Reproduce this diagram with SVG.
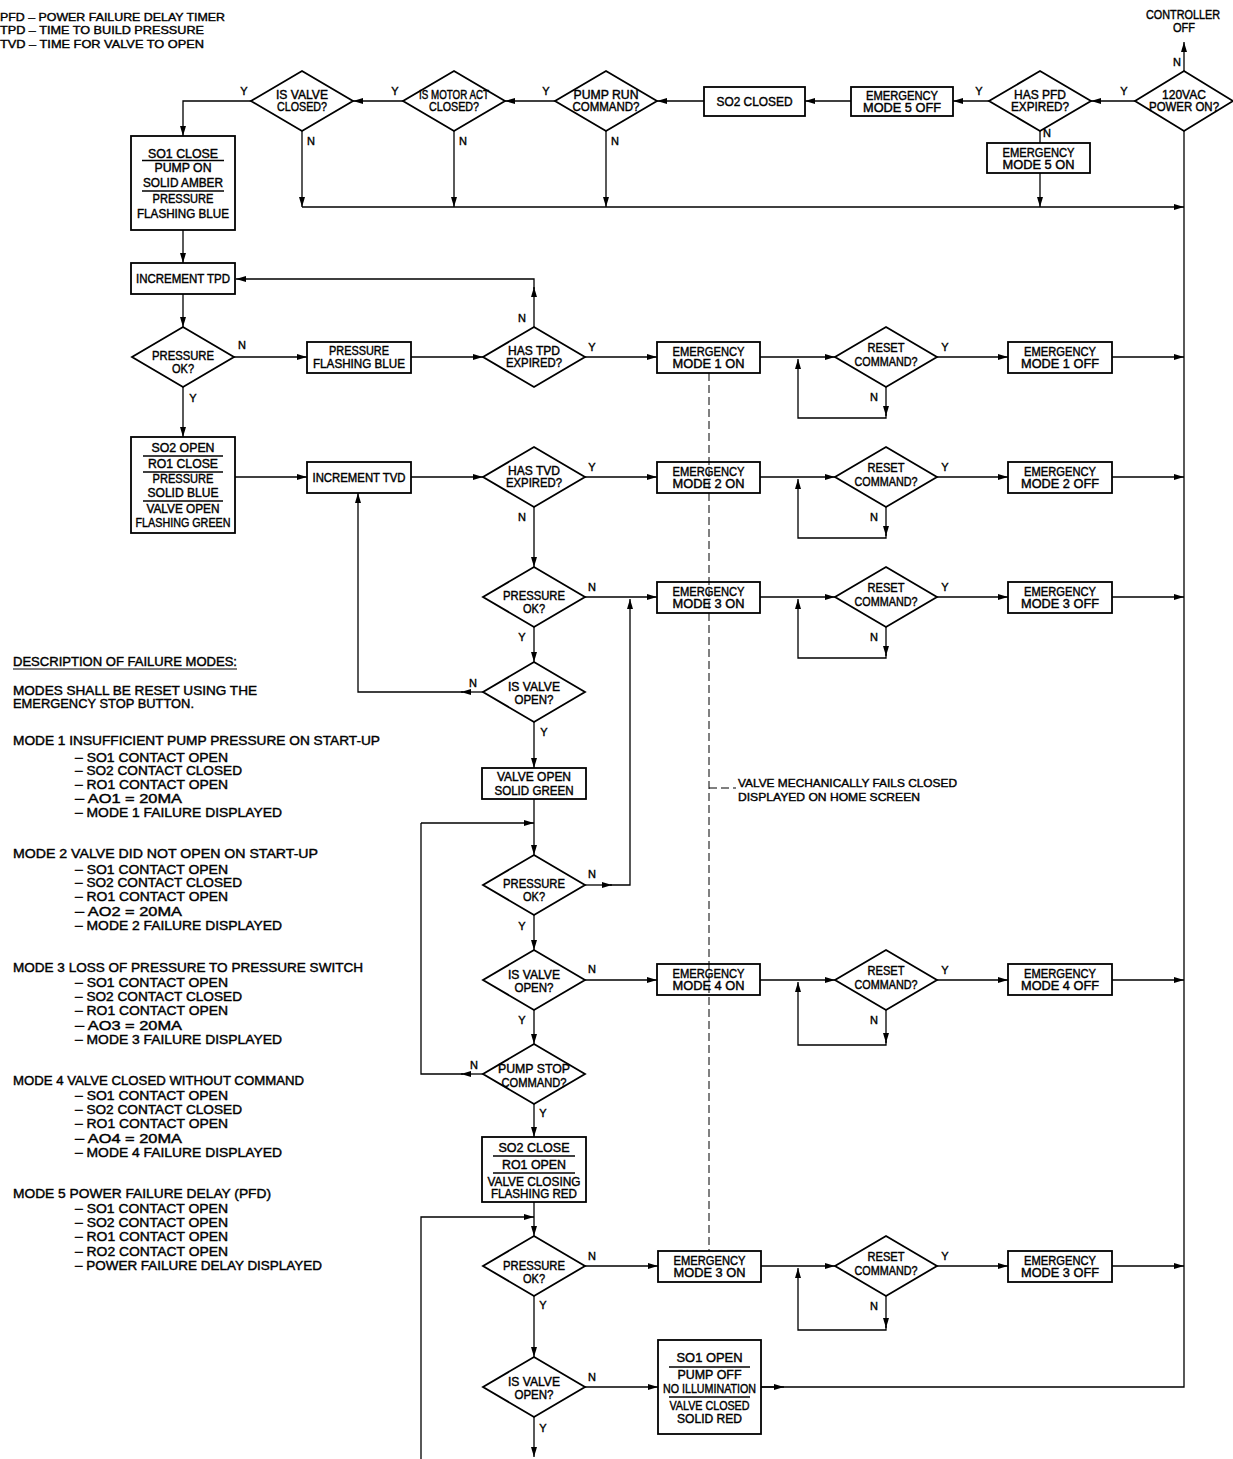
<svg xmlns="http://www.w3.org/2000/svg" width="1233" height="1459" viewBox="0 0 1233 1459">
<style>
.s{fill:#fff;stroke:#000;stroke-width:1.8}
.sep{fill:none;stroke:#000;stroke-width:1.4}
.c{fill:none;stroke:#000;stroke-width:1.3}
.ca{fill:none;stroke:#000;stroke-width:1.3;marker-end:url(#ah)}
.d{fill:none;stroke:#000;stroke-width:1;stroke-dasharray:8 4}
text{font-family:"Liberation Sans",Arial,sans-serif;fill:#000;stroke:#000;stroke-width:0.4}
.t{font-size:12px;text-anchor:middle}
.l{font-size:11px;text-anchor:middle}
.p{font-size:12.5px;text-anchor:start}
.g{font-size:11.5px;text-anchor:start}
</style>
<defs>
<marker id="ah" viewBox="0 0 10 6" refX="10" refY="3" markerWidth="10" markerHeight="6" markerUnits="userSpaceOnUse" orient="auto"><path d="M0,0 L10,3 L0,6 z" fill="#000"/></marker>
</defs>
<rect width="1233" height="1459" fill="#fff"/>

<g id="legend">
<text class="g" x="0" y="20.5" textLength="225" lengthAdjust="spacingAndGlyphs">PFD – POWER FAILURE DELAY TIMER</text>
<text class="g" x="0" y="34" textLength="204" lengthAdjust="spacingAndGlyphs">TPD – TIME TO BUILD PRESSURE</text>
<text class="g" x="0" y="47.5" textLength="204" lengthAdjust="spacingAndGlyphs">TVD – TIME FOR VALVE TO OPEN</text>
</g>

<g id="controller-off">
<text class="t" x="1183" y="19.3" textLength="74" lengthAdjust="spacingAndGlyphs">CONTROLLER</text>
<text class="t" x="1184" y="32.3" textLength="22" lengthAdjust="spacingAndGlyphs">OFF</text>
</g>

<g id="description">
<text class="p" x="13" y="665.5" textLength="224" lengthAdjust="spacingAndGlyphs">DESCRIPTION OF FAILURE MODES:</text>
<line class="sep" x1="13" y1="669" x2="237" y2="669" style="stroke-width:1.1"/>
<text class="p" x="13" y="694.5" textLength="244" lengthAdjust="spacingAndGlyphs">MODES SHALL BE RESET USING THE</text>
<text class="p" x="13" y="707.5" textLength="181" lengthAdjust="spacingAndGlyphs">EMERGENCY STOP BUTTON.</text>
<text class="p" x="13" y="744.5" textLength="367" lengthAdjust="spacingAndGlyphs">MODE 1 INSUFFICIENT PUMP PRESSURE ON START-UP</text>
<text class="p" x="75" y="761.5" textLength="153" lengthAdjust="spacingAndGlyphs">– SO1 CONTACT OPEN</text>
<text class="p" x="75" y="775" textLength="167" lengthAdjust="spacingAndGlyphs">– SO2 CONTACT CLOSED</text>
<text class="p" x="75" y="788.5" textLength="153" lengthAdjust="spacingAndGlyphs">– RO1 CONTACT OPEN</text>
<text class="p" x="75" y="803" textLength="107" lengthAdjust="spacingAndGlyphs">– AO1 = 20MA</text>
<text class="p" x="75" y="817" textLength="207" lengthAdjust="spacingAndGlyphs">– MODE 1 FAILURE DISPLAYED</text>
<text class="p" x="13" y="857.5" textLength="305" lengthAdjust="spacingAndGlyphs">MODE 2 VALVE DID NOT OPEN ON START-UP</text>
<text class="p" x="75" y="873.5" textLength="153" lengthAdjust="spacingAndGlyphs">– SO1 CONTACT OPEN</text>
<text class="p" x="75" y="887" textLength="167" lengthAdjust="spacingAndGlyphs">– SO2 CONTACT CLOSED</text>
<text class="p" x="75" y="901" textLength="153" lengthAdjust="spacingAndGlyphs">– RO1 CONTACT OPEN</text>
<text class="p" x="75" y="916" textLength="107" lengthAdjust="spacingAndGlyphs">– AO2 = 20MA</text>
<text class="p" x="75" y="930" textLength="207" lengthAdjust="spacingAndGlyphs">– MODE 2 FAILURE DISPLAYED</text>
<text class="p" x="13" y="971.5" textLength="350" lengthAdjust="spacingAndGlyphs">MODE 3 LOSS OF PRESSURE TO PRESSURE SWITCH</text>
<text class="p" x="75" y="987" textLength="153" lengthAdjust="spacingAndGlyphs">– SO1 CONTACT OPEN</text>
<text class="p" x="75" y="1001" textLength="167" lengthAdjust="spacingAndGlyphs">– SO2 CONTACT CLOSED</text>
<text class="p" x="75" y="1015" textLength="153" lengthAdjust="spacingAndGlyphs">– RO1 CONTACT OPEN</text>
<text class="p" x="75" y="1030" textLength="107" lengthAdjust="spacingAndGlyphs">– AO3 = 20MA</text>
<text class="p" x="75" y="1043.5" textLength="207" lengthAdjust="spacingAndGlyphs">– MODE 3 FAILURE DISPLAYED</text>
<text class="p" x="13" y="1084.5" textLength="291" lengthAdjust="spacingAndGlyphs">MODE 4 VALVE CLOSED WITHOUT COMMAND</text>
<text class="p" x="75" y="1100" textLength="153" lengthAdjust="spacingAndGlyphs">– SO1 CONTACT OPEN</text>
<text class="p" x="75" y="1114" textLength="167" lengthAdjust="spacingAndGlyphs">– SO2 CONTACT CLOSED</text>
<text class="p" x="75" y="1128" textLength="153" lengthAdjust="spacingAndGlyphs">– RO1 CONTACT OPEN</text>
<text class="p" x="75" y="1143" textLength="107" lengthAdjust="spacingAndGlyphs">– AO4 = 20MA</text>
<text class="p" x="75" y="1156.5" textLength="207" lengthAdjust="spacingAndGlyphs">– MODE 4 FAILURE DISPLAYED</text>
<text class="p" x="13" y="1197.5" textLength="258" lengthAdjust="spacingAndGlyphs">MODE 5 POWER FAILURE DELAY (PFD)</text>
<text class="p" x="75" y="1212.5" textLength="153" lengthAdjust="spacingAndGlyphs">– SO1 CONTACT OPEN</text>
<text class="p" x="75" y="1227" textLength="153" lengthAdjust="spacingAndGlyphs">– SO2 CONTACT OPEN</text>
<text class="p" x="75" y="1241" textLength="153" lengthAdjust="spacingAndGlyphs">– RO1 CONTACT OPEN</text>
<text class="p" x="75" y="1255.5" textLength="153" lengthAdjust="spacingAndGlyphs">– RO2 CONTACT OPEN</text>
<text class="p" x="75" y="1269.5" textLength="247" lengthAdjust="spacingAndGlyphs">– POWER FAILURE DELAY DISPLAYED</text>
</g>

<!-- top row -->
<g id="d-power-on"><polygon class="s" points="1184,71 1233,101 1184,131 1135,101"/>
<text class="t" x="1184" y="99" textLength="44" lengthAdjust="spacingAndGlyphs">120VAC</text>
<text class="t" x="1184" y="111" textLength="70" lengthAdjust="spacingAndGlyphs">POWER ON?</text></g>
<g id="d-pfd-expired"><polygon class="s" points="1040,71 1091,101 1040,131 989,101"/>
<text class="t" x="1040" y="99" textLength="52" lengthAdjust="spacingAndGlyphs">HAS PFD</text>
<text class="t" x="1040" y="111" textLength="58" lengthAdjust="spacingAndGlyphs">EXPIRED?</text></g>
<g id="b-em5-off"><rect class="s" x="851" y="87" width="102" height="29"/>
<text class="t" x="902" y="99.5" textLength="72" lengthAdjust="spacingAndGlyphs">EMERGENCY</text>
<text class="t" x="902" y="111.5" textLength="78" lengthAdjust="spacingAndGlyphs">MODE 5 OFF</text></g>
<g id="b-em5-on"><rect class="s" x="987" y="143" width="103" height="30"/>
<text class="t" x="1038.5" y="157" textLength="72" lengthAdjust="spacingAndGlyphs">EMERGENCY</text>
<text class="t" x="1038.5" y="169" textLength="72" lengthAdjust="spacingAndGlyphs">MODE 5 ON</text></g>
<g id="b-so2-closed"><rect class="s" x="704" y="87" width="101" height="29"/>
<text class="t" x="754.5" y="105.8" textLength="76" lengthAdjust="spacingAndGlyphs">SO2 CLOSED</text></g>
<g id="d-pump-run"><polygon class="s" points="606,71 657,101 606,131 555,101"/>
<text class="t" x="606" y="99" textLength="65" lengthAdjust="spacingAndGlyphs">PUMP RUN</text>
<text class="t" x="606" y="111" textLength="67" lengthAdjust="spacingAndGlyphs">COMMAND?</text></g>
<g id="d-motor-closed"><polygon class="s" points="454,71 505,101 454,131 403,101"/>
<text class="t" x="454" y="99" textLength="70" lengthAdjust="spacingAndGlyphs">IS MOTOR ACT</text>
<text class="t" x="454" y="111" textLength="50" lengthAdjust="spacingAndGlyphs">CLOSED?</text></g>
<g id="d-valve-closed"><polygon class="s" points="302,71 353,101 302,131 251,101"/>
<text class="t" x="302" y="99" textLength="52" lengthAdjust="spacingAndGlyphs">IS VALVE</text>
<text class="t" x="302" y="111" textLength="50" lengthAdjust="spacingAndGlyphs">CLOSED?</text></g>

<!-- left column -->
<g id="b-so1-close"><rect class="s" x="131" y="136" width="104" height="94"/>
<text class="t" x="183" y="158.3" textLength="70" lengthAdjust="spacingAndGlyphs">SO1 CLOSE</text>
<line class="sep" x1="142" y1="160.5" x2="224" y2="160.5"/>
<text class="t" x="183" y="172.3" textLength="57" lengthAdjust="spacingAndGlyphs">PUMP ON</text>
<text class="t" x="183" y="187.3" textLength="80" lengthAdjust="spacingAndGlyphs">SOLID AMBER</text>
<line class="sep" x1="142" y1="191" x2="224" y2="191"/>
<text class="t" x="183" y="203.3" textLength="61" lengthAdjust="spacingAndGlyphs">PRESSURE</text>
<text class="t" x="183" y="218.3" textLength="92" lengthAdjust="spacingAndGlyphs">FLASHING BLUE</text></g>
<g id="b-inc-tpd"><rect class="s" x="131" y="263" width="104" height="31"/>
<text class="t" x="183" y="283" textLength="94" lengthAdjust="spacingAndGlyphs">INCREMENT TPD</text></g>
<g id="d-pressure-1"><polygon class="s" points="183,327 234,357 183,387 132,357"/>
<text class="t" x="183" y="360.3" textLength="62" lengthAdjust="spacingAndGlyphs">PRESSURE</text>
<text class="t" x="183" y="373.3" textLength="22" lengthAdjust="spacingAndGlyphs">OK?</text></g>
<g id="b-pressure-flashing"><rect class="s" x="307" y="342" width="104" height="31"/>
<text class="t" x="359" y="355.3" textLength="60" lengthAdjust="spacingAndGlyphs">PRESSURE</text>
<text class="t" x="359" y="368.3" textLength="92" lengthAdjust="spacingAndGlyphs">FLASHING BLUE</text></g>
<g id="d-tpd-expired"><polygon class="s" points="534,327 585,357 534,387 483,357"/>
<text class="t" x="534" y="355.3" textLength="52" lengthAdjust="spacingAndGlyphs">HAS TPD</text>
<text class="t" x="534" y="367.3" textLength="56" lengthAdjust="spacingAndGlyphs">EXPIRED?</text></g>
<g id="b-em1-on"><rect class="s" x="657" y="342" width="103" height="31"/>
<text class="t" x="708.5" y="356.3" textLength="72" lengthAdjust="spacingAndGlyphs">EMERGENCY</text>
<text class="t" x="708.5" y="368.3" textLength="72" lengthAdjust="spacingAndGlyphs">MODE 1 ON</text></g>
<g id="d-reset-1"><polygon class="s" points="886,327 937,357 886,387 835,357"/>
<text class="t" x="886" y="352.3" textLength="37" lengthAdjust="spacingAndGlyphs">RESET</text>
<text class="t" x="886" y="365.8" textLength="63" lengthAdjust="spacingAndGlyphs">COMMAND?</text></g>
<g id="b-em1-off"><rect class="s" x="1008" y="342" width="104" height="31"/>
<text class="t" x="1060" y="356.3" textLength="72" lengthAdjust="spacingAndGlyphs">EMERGENCY</text>
<text class="t" x="1060" y="368.3" textLength="78" lengthAdjust="spacingAndGlyphs">MODE 1 OFF</text></g>

<g id="b-so2-open"><rect class="s" x="131" y="437" width="104" height="96"/>
<text class="t" x="183" y="452.3" textLength="63" lengthAdjust="spacingAndGlyphs">SO2 OPEN</text>
<line class="sep" x1="143" y1="456" x2="223" y2="456"/>
<text class="t" x="183" y="468.3" textLength="70" lengthAdjust="spacingAndGlyphs">RO1 CLOSE</text>
<line class="sep" x1="143" y1="472" x2="223" y2="472"/>
<text class="t" x="183" y="483.3" textLength="61" lengthAdjust="spacingAndGlyphs">PRESSURE</text>
<text class="t" x="183" y="497.3" textLength="71" lengthAdjust="spacingAndGlyphs">SOLID BLUE</text>
<line class="sep" x1="143" y1="501" x2="223" y2="501"/>
<text class="t" x="183" y="513.3" textLength="73" lengthAdjust="spacingAndGlyphs">VALVE OPEN</text>
<text class="t" x="183" y="527.3" textLength="95" lengthAdjust="spacingAndGlyphs">FLASHING GREEN</text></g>
<g id="b-inc-tvd"><rect class="s" x="307" y="462" width="104" height="31"/>
<text class="t" x="359" y="482" textLength="93" lengthAdjust="spacingAndGlyphs">INCREMENT TVD</text></g>
<g id="d-tvd-expired"><polygon class="s" points="534,447 585,477 534,507 483,477"/>
<text class="t" x="534" y="475.3" textLength="52" lengthAdjust="spacingAndGlyphs">HAS TVD</text>
<text class="t" x="534" y="487.3" textLength="56" lengthAdjust="spacingAndGlyphs">EXPIRED?</text></g>
<g id="b-em2-on"><rect class="s" x="657" y="462" width="103" height="31"/>
<text class="t" x="708.5" y="476.3" textLength="72" lengthAdjust="spacingAndGlyphs">EMERGENCY</text>
<text class="t" x="708.5" y="488.3" textLength="72" lengthAdjust="spacingAndGlyphs">MODE 2 ON</text></g>
<g id="d-reset-2"><polygon class="s" points="886,447 937,477 886,507 835,477"/>
<text class="t" x="886" y="472.3" textLength="37" lengthAdjust="spacingAndGlyphs">RESET</text>
<text class="t" x="886" y="485.8" textLength="63" lengthAdjust="spacingAndGlyphs">COMMAND?</text></g>
<g id="b-em2-off"><rect class="s" x="1008" y="462" width="104" height="31"/>
<text class="t" x="1060" y="476.3" textLength="72" lengthAdjust="spacingAndGlyphs">EMERGENCY</text>
<text class="t" x="1060" y="488.3" textLength="78" lengthAdjust="spacingAndGlyphs">MODE 2 OFF</text></g>

<g id="d-pressure-3"><polygon class="s" points="534,567 585,597 534,627 483,597"/>
<text class="t" x="534" y="600.3" textLength="62" lengthAdjust="spacingAndGlyphs">PRESSURE</text>
<text class="t" x="534" y="613.3" textLength="22" lengthAdjust="spacingAndGlyphs">OK?</text></g>
<g id="b-em3-on"><rect class="s" x="657" y="582" width="103" height="31"/>
<text class="t" x="708.5" y="596.3" textLength="72" lengthAdjust="spacingAndGlyphs">EMERGENCY</text>
<text class="t" x="708.5" y="608.3" textLength="72" lengthAdjust="spacingAndGlyphs">MODE 3 ON</text></g>
<g id="d-reset-3"><polygon class="s" points="886,567 937,597 886,627 835,597"/>
<text class="t" x="886" y="592.3" textLength="37" lengthAdjust="spacingAndGlyphs">RESET</text>
<text class="t" x="886" y="605.8" textLength="63" lengthAdjust="spacingAndGlyphs">COMMAND?</text></g>
<g id="b-em3-off"><rect class="s" x="1008" y="582" width="104" height="31"/>
<text class="t" x="1060" y="596.3" textLength="72" lengthAdjust="spacingAndGlyphs">EMERGENCY</text>
<text class="t" x="1060" y="608.3" textLength="78" lengthAdjust="spacingAndGlyphs">MODE 3 OFF</text></g>

<g id="d-valve-open-4"><polygon class="s" points="534,662 585,692 534,722 483,692"/>
<text class="t" x="534" y="691.3" textLength="52" lengthAdjust="spacingAndGlyphs">IS VALVE</text>
<text class="t" x="534" y="703.8" textLength="39" lengthAdjust="spacingAndGlyphs">OPEN?</text></g>
<g id="b-valve-open-green"><rect class="s" x="482" y="768" width="104" height="31"/>
<text class="t" x="534" y="781.3" textLength="74" lengthAdjust="spacingAndGlyphs">VALVE OPEN</text>
<text class="t" x="534" y="795.3" textLength="79" lengthAdjust="spacingAndGlyphs">SOLID GREEN</text></g>
<g id="d-pressure-5"><polygon class="s" points="534,855 585,885 534,915 483,885"/>
<text class="t" x="534" y="888.3" textLength="62" lengthAdjust="spacingAndGlyphs">PRESSURE</text>
<text class="t" x="534" y="901.3" textLength="22" lengthAdjust="spacingAndGlyphs">OK?</text></g>
<g id="d-valve-open-6"><polygon class="s" points="534,950 585,980 534,1010 483,980"/>
<text class="t" x="534" y="979.3" textLength="52" lengthAdjust="spacingAndGlyphs">IS VALVE</text>
<text class="t" x="534" y="991.8" textLength="39" lengthAdjust="spacingAndGlyphs">OPEN?</text></g>
<g id="b-em4-on"><rect class="s" x="657" y="964" width="103" height="31"/>
<text class="t" x="708.5" y="978.3" textLength="72" lengthAdjust="spacingAndGlyphs">EMERGENCY</text>
<text class="t" x="708.5" y="990.3" textLength="72" lengthAdjust="spacingAndGlyphs">MODE 4 ON</text></g>
<g id="d-reset-4"><polygon class="s" points="886,950 937,980 886,1010 835,980"/>
<text class="t" x="886" y="975.3" textLength="37" lengthAdjust="spacingAndGlyphs">RESET</text>
<text class="t" x="886" y="988.8" textLength="63" lengthAdjust="spacingAndGlyphs">COMMAND?</text></g>
<g id="b-em4-off"><rect class="s" x="1008" y="964" width="104" height="31"/>
<text class="t" x="1060" y="978.3" textLength="72" lengthAdjust="spacingAndGlyphs">EMERGENCY</text>
<text class="t" x="1060" y="990.3" textLength="78" lengthAdjust="spacingAndGlyphs">MODE 4 OFF</text></g>
<g id="d-pump-stop"><polygon class="s" points="534,1044 585,1074 534,1104 483,1074"/>
<text class="t" x="534" y="1073.3" textLength="72" lengthAdjust="spacingAndGlyphs">PUMP STOP</text>
<text class="t" x="534" y="1087.3" textLength="65" lengthAdjust="spacingAndGlyphs">COMMAND?</text></g>
<g id="b-so2-close"><rect class="s" x="482" y="1137" width="104" height="65"/>
<text class="t" x="534" y="1152.3" textLength="71" lengthAdjust="spacingAndGlyphs">SO2 CLOSE</text>
<line class="sep" x1="493" y1="1156" x2="575" y2="1156"/>
<text class="t" x="534" y="1169.3" textLength="64" lengthAdjust="spacingAndGlyphs">RO1 OPEN</text>
<line class="sep" x1="493" y1="1173" x2="575" y2="1173"/>
<text class="t" x="534" y="1186.3" textLength="93" lengthAdjust="spacingAndGlyphs">VALVE CLOSING</text>
<text class="t" x="534" y="1198.3" textLength="86" lengthAdjust="spacingAndGlyphs">FLASHING RED</text></g>
<g id="d-pressure-8"><polygon class="s" points="534,1236 585,1266 534,1296 483,1266"/>
<text class="t" x="534" y="1269.8" textLength="62" lengthAdjust="spacingAndGlyphs">PRESSURE</text>
<text class="t" x="534" y="1282.5" textLength="22" lengthAdjust="spacingAndGlyphs">OK?</text></g>
<g id="b-em3b-on"><rect class="s" x="658" y="1251" width="103" height="31"/>
<text class="t" x="709.5" y="1265.3" textLength="72" lengthAdjust="spacingAndGlyphs">EMERGENCY</text>
<text class="t" x="709.5" y="1277.3" textLength="72" lengthAdjust="spacingAndGlyphs">MODE 3 ON</text></g>
<g id="d-reset-5"><polygon class="s" points="886,1236 937,1266 886,1296 835,1266"/>
<text class="t" x="886" y="1261.3" textLength="37" lengthAdjust="spacingAndGlyphs">RESET</text>
<text class="t" x="886" y="1274.8" textLength="63" lengthAdjust="spacingAndGlyphs">COMMAND?</text></g>
<g id="b-em3b-off"><rect class="s" x="1008" y="1251" width="104" height="31"/>
<text class="t" x="1060" y="1265.3" textLength="72" lengthAdjust="spacingAndGlyphs">EMERGENCY</text>
<text class="t" x="1060" y="1277.3" textLength="78" lengthAdjust="spacingAndGlyphs">MODE 3 OFF</text></g>
<g id="d-valve-open-9"><polygon class="s" points="534,1357 585,1387 534,1417 483,1387"/>
<text class="t" x="534" y="1386.3" textLength="52" lengthAdjust="spacingAndGlyphs">IS VALVE</text>
<text class="t" x="534" y="1398.8" textLength="39" lengthAdjust="spacingAndGlyphs">OPEN?</text></g>
<g id="b-so1-open"><rect class="s" x="658" y="1340" width="103" height="94"/>
<text class="t" x="709.5" y="1362.3" textLength="66" lengthAdjust="spacingAndGlyphs">SO1 OPEN</text>
<line class="sep" x1="669" y1="1367" x2="750" y2="1367"/>
<text class="t" x="709.5" y="1379.3" textLength="64" lengthAdjust="spacingAndGlyphs">PUMP OFF</text>
<text class="t" x="709.5" y="1393.3" textLength="93" lengthAdjust="spacingAndGlyphs">NO ILLUMINATION</text>
<line class="sep" x1="669" y1="1397" x2="750" y2="1397"/>
<text class="t" x="709.5" y="1410.3" textLength="80" lengthAdjust="spacingAndGlyphs">VALVE CLOSED</text>
<text class="t" x="709.5" y="1423.3" textLength="65" lengthAdjust="spacingAndGlyphs">SOLID RED</text></g>

<g id="note-valve-fails">
<text class="g" x="738" y="787.3" textLength="219" lengthAdjust="spacingAndGlyphs">VALVE MECHANICALLY FAILS CLOSED</text>
<text class="g" x="738" y="801" textLength="182" lengthAdjust="spacingAndGlyphs">DISPLAYED ON HOME SCREEN</text>
</g>

<g id="connectors">
<path class="ca" d="M1184,71 V42"/>
<path class="ca" d="M1135,101 H1091"/>
<path class="ca" d="M989,101 H953"/>
<path class="c" d="M1040,131 V143"/>
<path class="ca" d="M1040,173 V207"/>
<path class="ca" d="M851,101 H805"/>
<path class="ca" d="M704,101 H657"/>
<path class="ca" d="M555,101 H505"/>
<path class="ca" d="M403,101 H353"/>
<path class="ca" d="M251,101 H183 V136"/>
<path class="ca" d="M302,131 V207"/>
<path class="ca" d="M454,131 V207"/>
<path class="ca" d="M606,131 V207"/>
<path class="ca" d="M302,207 H1184"/>
<path class="c" d="M1184,131 V1387 H761"/>
<path class="ca" d="M761,1387 H784"/>

<path class="ca" d="M183,230 V263"/>
<path class="ca" d="M183,294 V327"/>
<path class="ca" d="M234,357 H307"/>
<path class="ca" d="M411,357 H483"/>
<path class="ca" d="M534,327 V287"/>
<path class="ca" d="M534,289 V279 H236"/>
<path class="ca" d="M585,357 H657"/>
<path class="ca" d="M760,357 H835"/>
<path class="ca" d="M886,387 V416"/>
<path class="ca" d="M886,414 V418 H798 V359"/>
<path class="ca" d="M937,357 H1008"/>
<path class="ca" d="M1112,357 H1184"/>

<path class="ca" d="M183,387 V437"/>
<path class="ca" d="M235,477 H307"/>
<path class="ca" d="M411,477 H483"/>
<path class="ca" d="M585,477 H657"/>
<path class="ca" d="M760,477 H835"/>
<path class="ca" d="M886,507 V536"/>
<path class="ca" d="M886,534 V538 H798 V479"/>
<path class="ca" d="M937,477 H1008"/>
<path class="ca" d="M1112,477 H1184"/>
<path class="ca" d="M534,507 V567"/>

<path class="ca" d="M585,597 H657"/>
<path class="ca" d="M760,597 H835"/>
<path class="ca" d="M886,627 V656"/>
<path class="ca" d="M886,654 V658 H798 V599"/>
<path class="ca" d="M937,597 H1008"/>
<path class="ca" d="M1112,597 H1184"/>
<path class="ca" d="M534,627 V662"/>

<path class="ca" d="M483,692 H461"/>
<path class="ca" d="M463,692 H358 V493"/>
<path class="ca" d="M534,722 V768"/>
<path class="ca" d="M534,799 V855"/>
<path class="ca" d="M483,1074 H461"/>
<path class="c" d="M463,1074 H421 V823"/>
<path class="ca" d="M421,823 H534"/>

<path class="ca" d="M585,885 H612"/>
<path class="ca" d="M610,885 H630 V599"/>
<path class="ca" d="M534,915 V950"/>

<path class="ca" d="M585,980 H657"/>
<path class="ca" d="M760,980 H835"/>
<path class="ca" d="M886,1010 V1043"/>
<path class="ca" d="M886,1041 V1045 H798 V982"/>
<path class="ca" d="M937,980 H1008"/>
<path class="ca" d="M1112,980 H1184"/>
<path class="ca" d="M534,1010 V1044"/>

<path class="ca" d="M534,1104 V1137"/>
<path class="ca" d="M534,1202 V1236"/>
<path class="ca" d="M421,1459 V1217 H534"/>

<path class="ca" d="M585,1266 H658"/>
<path class="ca" d="M761,1266 H835"/>
<path class="ca" d="M886,1296 V1328"/>
<path class="ca" d="M886,1326 V1330 H798 V1268"/>
<path class="ca" d="M937,1266 H1008"/>
<path class="ca" d="M1112,1266 H1184"/>
<path class="ca" d="M534,1296 V1357"/>

<path class="ca" d="M585,1387 H658"/>
<path class="ca" d="M534,1417 V1457"/>

<path class="d" d="M709,373 V1251 M709,788 H736"/>

<text class="l" x="1177" y="66">N</text>
<text class="l" x="1124" y="95">Y</text>
<text class="l" x="979" y="95">Y</text>
<text class="l" x="1047" y="137">N</text>
<text class="l" x="546" y="95">Y</text>
<text class="l" x="395" y="95">Y</text>
<text class="l" x="244" y="95">Y</text>
<text class="l" x="311" y="145">N</text>
<text class="l" x="463" y="145">N</text>
<text class="l" x="615" y="145">N</text>
<text class="l" x="242" y="349">N</text>
<text class="l" x="193" y="402">Y</text>
<text class="l" x="522" y="322">N</text>
<text class="l" x="592" y="351">Y</text>
<text class="l" x="874" y="401">N</text>
<text class="l" x="945" y="351">Y</text>
<text class="l" x="592" y="471">Y</text>
<text class="l" x="522" y="521">N</text>
<text class="l" x="874" y="521">N</text>
<text class="l" x="945" y="471">Y</text>
<text class="l" x="592" y="591">N</text>
<text class="l" x="522" y="641">Y</text>
<text class="l" x="874" y="641">N</text>
<text class="l" x="945" y="591">Y</text>
<text class="l" x="473" y="687">N</text>
<text class="l" x="544" y="736">Y</text>
<text class="l" x="592" y="878">N</text>
<text class="l" x="522" y="930">Y</text>
<text class="l" x="592" y="973">N</text>
<text class="l" x="522" y="1024">Y</text>
<text class="l" x="874" y="1024">N</text>
<text class="l" x="945" y="974">Y</text>
<text class="l" x="474" y="1069">N</text>
<text class="l" x="543" y="1117">Y</text>
<text class="l" x="592" y="1260">N</text>
<text class="l" x="543" y="1309">Y</text>
<text class="l" x="874" y="1310">N</text>
<text class="l" x="945" y="1260">Y</text>
<text class="l" x="592" y="1381">N</text>
<text class="l" x="543" y="1432">Y</text>
</g>
</svg>
